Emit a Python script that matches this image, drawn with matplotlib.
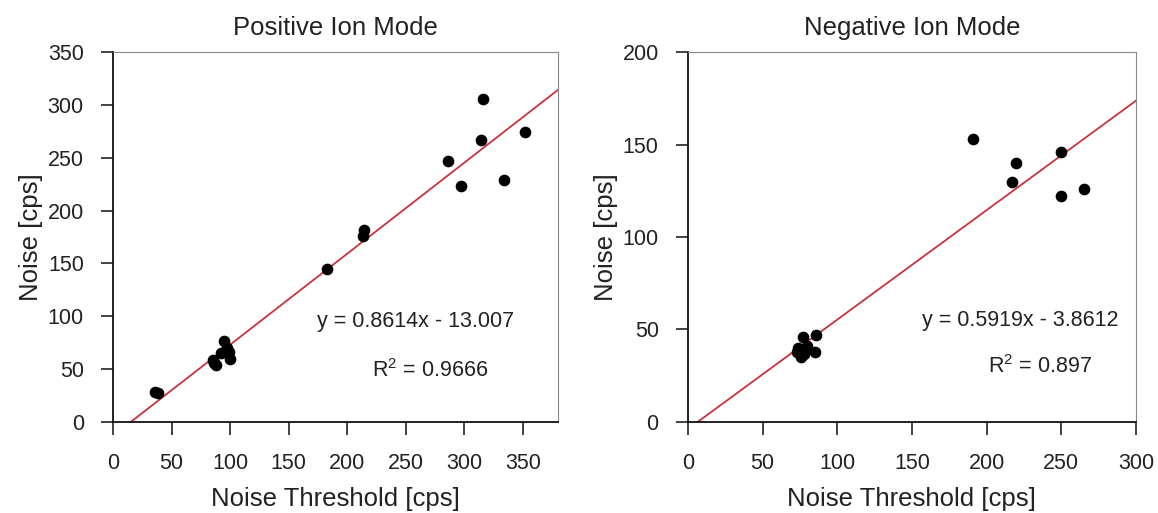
import matplotlib.pyplot as plt
import numpy as np

plt.rcParams['font.family'] = ['Liberation Sans', 'DejaVu Sans']

# ── Data ──────────────────────────────────────────────────────────────
pos_x = [36, 38, 85, 88, 86, 92, 95, 97, 99, 100, 183, 213, 214, 286, 297, 314, 316, 334, 352]
pos_y = [28, 27, 59, 54, 56, 65, 77, 70, 66, 60, 145, 176, 182, 247, 223, 267, 306, 229, 274]
pos_fit = (0.8614, -13.007)
pos_eq = 'y = 0.8614x - 13.007'
pos_r2 = r'$\mathregular{R^2}$ = 0.9666'

neg_x = [73, 74, 76, 77, 78, 80, 85, 86, 191, 217, 220, 250, 250, 265]
neg_y = [38, 40, 35, 46, 37, 41, 38, 47, 153, 130, 140, 146, 122, 126]
neg_fit = (0.5919, -3.8612)
neg_eq = 'y = 0.5919x - 3.8612'
neg_r2 = r'$\mathregular{R^2}$ = 0.897'

fig = plt.figure(figsize=(11.58, 5.13), dpi=100)
fig.patch.set_facecolor('white')

panels = [
    dict(rect=[0.0976, 0.1774, 0.3844, 0.7212], x=pos_x, y=pos_y, fit=pos_fit,
         title='Positive Ion Mode', xlim=(0, 380), ylim=(0, 350),
         xticks=range(0, 351, 50), yticks=range(0, 351, 50),
         eq=pos_eq, eq_xy=(174, 95), r2=pos_r2, r2_xy=(221, 49)),
    dict(rect=[0.594, 0.1774, 0.387, 0.7212], x=neg_x, y=neg_y, fit=neg_fit,
         title='Negative Ion Mode', xlim=(0, 300), ylim=(0, 200),
         xticks=range(0, 301, 50), yticks=range(0, 201, 50),
         eq=neg_eq, eq_xy=(157, 55), r2=neg_r2, r2_xy=(201, 30)),
]

for p in panels:
    ax = fig.add_axes(p['rect'])
    slope, icpt = p['fit']
    x0 = -icpt / slope
    xl = np.array([x0, p['xlim'][1]])
    ax.plot(xl, slope * xl + icpt, color='#c8323a', linewidth=1.3, zorder=2)
    ax.plot(p['x'], p['y'], 'o', color='black', markersize=7.4, zorder=3)

    ax.set_xlim(*p['xlim'])
    ax.set_ylim(*p['ylim'])
    ax.set_xticks(list(p['xticks']))
    ax.set_yticks(list(p['yticks']))
    ax.tick_params(direction='out', length=9, width=1.2, labelsize=15.5,
                   colors='#222')
    ax.tick_params(axis='x', pad=13)
    ax.tick_params(axis='y', pad=12)

    ax.set_title(p['title'], fontsize=18.5, color='#222', pad=12)
    ax.set_xlabel('Noise Threshold [cps]', fontsize=18.5, color='#222', labelpad=10)
    ax.set_ylabel('Noise [cps]', fontsize=18.5, color='#222', labelpad=3)

    ax.spines['left'].set_color('#111')
    ax.spines['bottom'].set_color('#111')
    ax.spines['left'].set_linewidth(1.3)
    ax.spines['bottom'].set_linewidth(1.3)
    ax.spines['top'].set_color('#888')
    ax.spines['right'].set_color('#888')

    ax.text(*p['eq_xy'], p['eq'], fontsize=15.5, color='#222', va='center', ha='left')
    ax.text(*p['r2_xy'], p['r2'], fontsize=15.5, color='#222', va='center', ha='left')

plt.savefig('out.png', dpi=100, facecolor='white')
